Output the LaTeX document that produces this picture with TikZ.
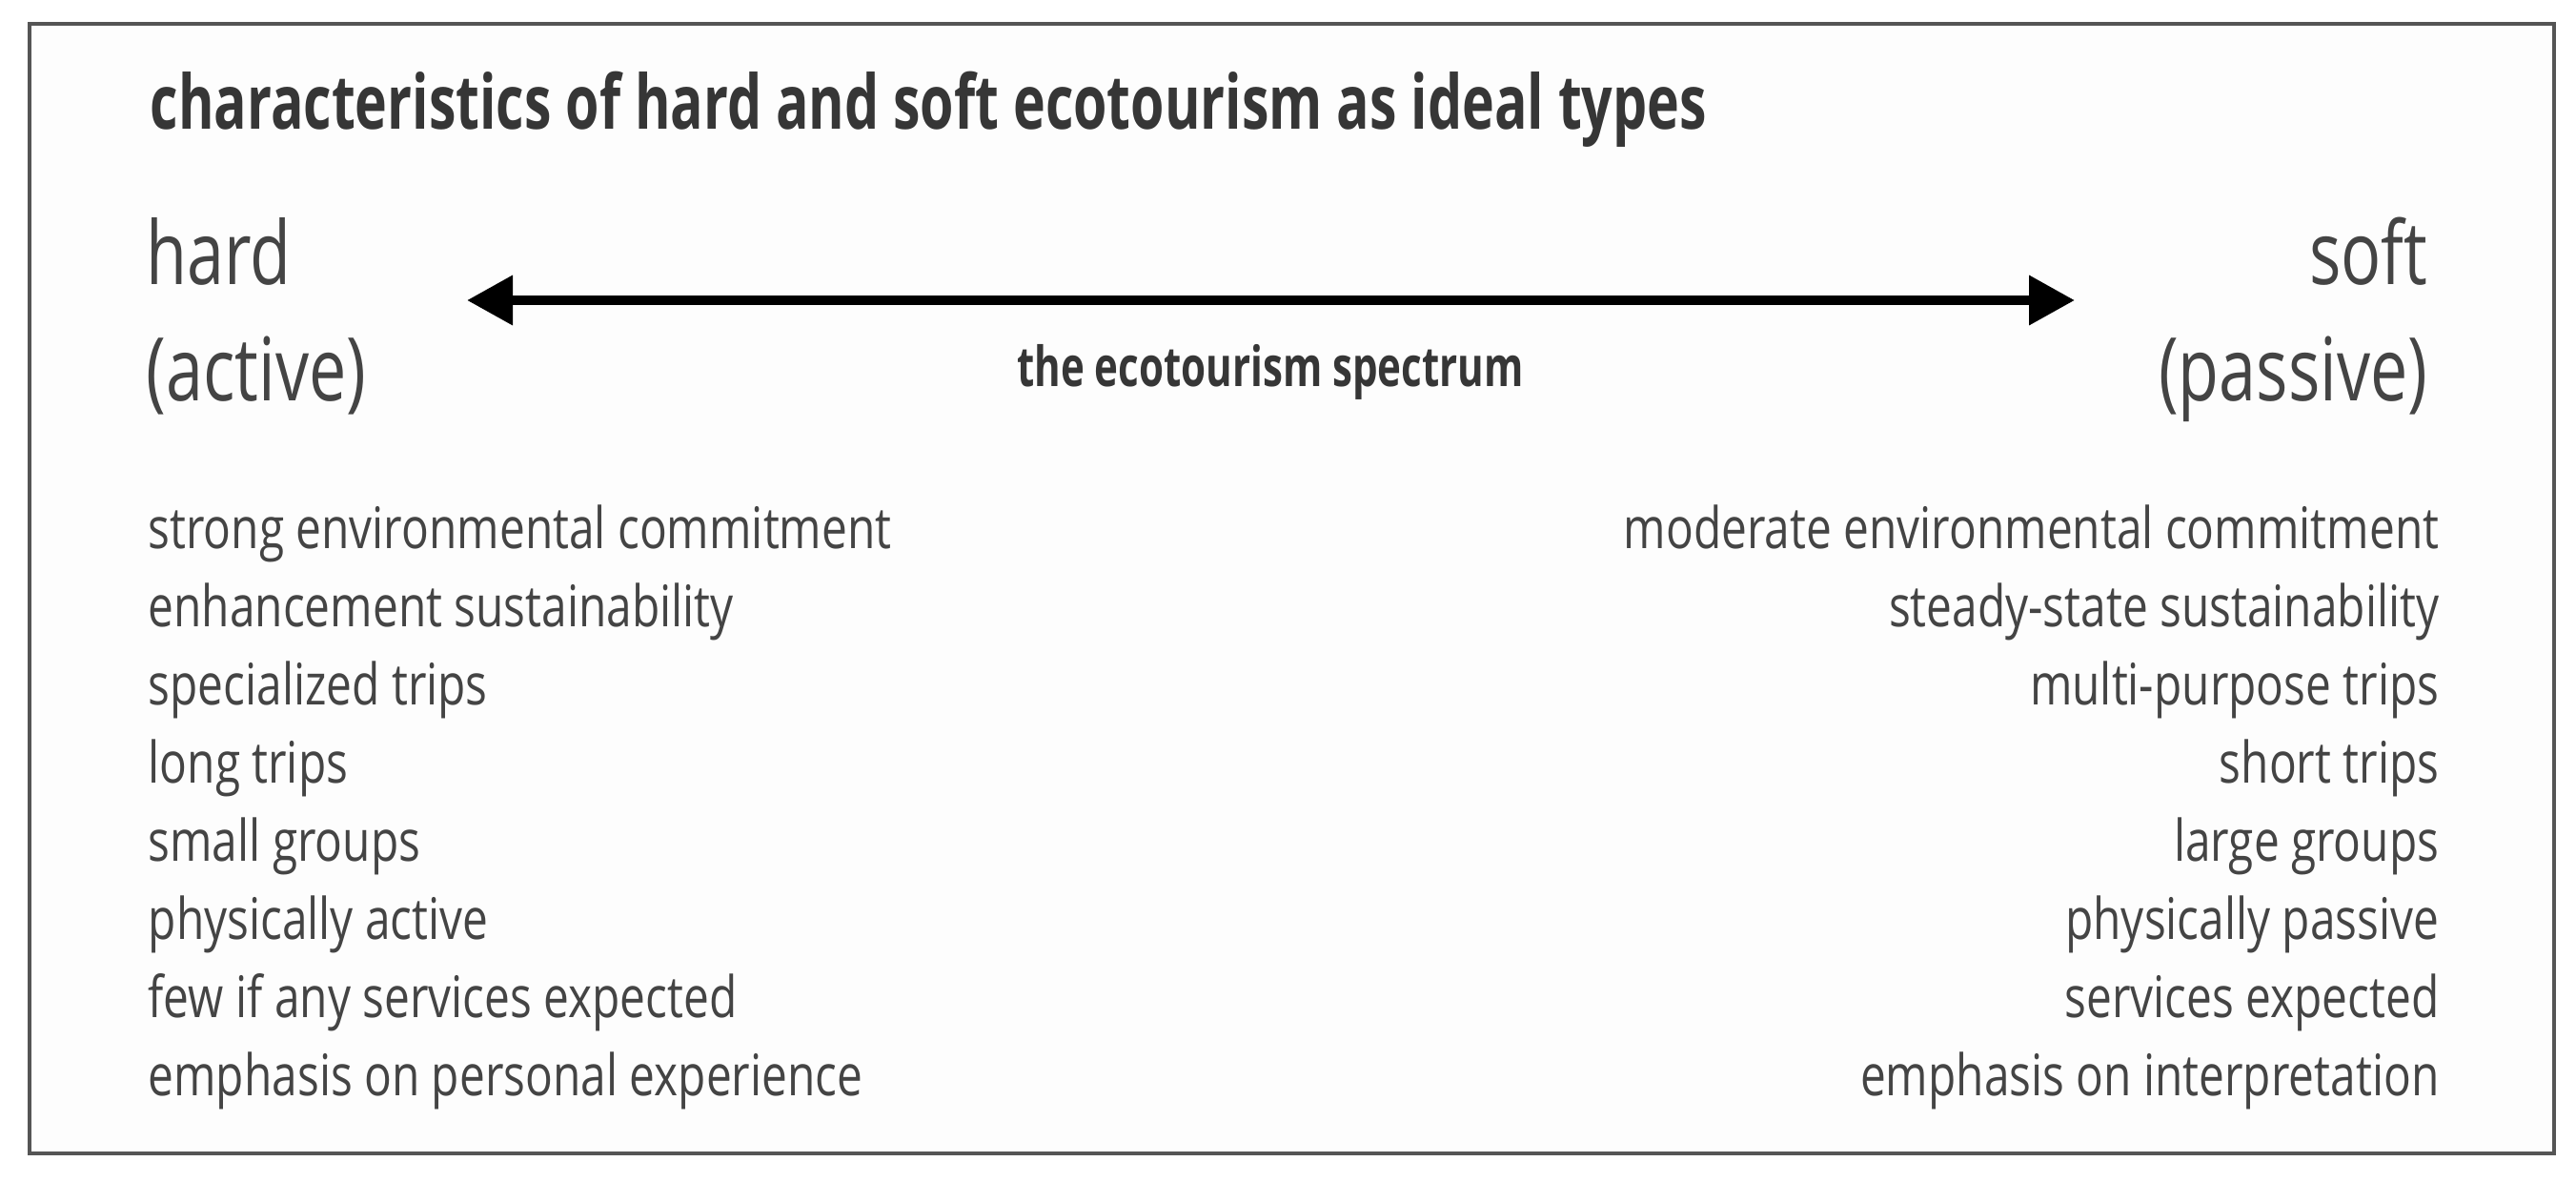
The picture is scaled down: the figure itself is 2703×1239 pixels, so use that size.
\documentclass[tikz,border=0pt]{standalone}
\usepackage{fontspec}
\setmainfont[FakeStretch=0.795,BoldFeatures={FakeStretch=0.725}]{Open Sans}
\newfontfamily\polefont[FakeStretch=0.76]{Open Sans}
\usetikzlibrary{arrows.meta}
\definecolor{txtgray}{HTML}{444444}
\definecolor{titlegray}{HTML}{363636}
\definecolor{framegray}{HTML}{555555}
\tikzset{
  item/.style={inner sep=0pt, text=txtgray, font=\fontsize{17.1pt}{20pt}\selectfont},
  lefttxt/.style={item, anchor=base west},
  righttxt/.style={item, anchor=base east},
  poletxt/.style={inner sep=0pt, text=txtgray, font=\polefont\fontsize{26.2pt}{30pt}\selectfont},
  spectrumarrow/.style={line width=0.1cm, {Triangle[length=0.48cm,width=0.5cm]}-{Triangle[length=0.48cm,width=0.5cm]}}
}
\begin{document}
\begin{tikzpicture}[x=0.01cm,y=-0.01cm]
\useasboundingbox (0,0) rectangle (2703,1239);
\fill[white] (0,0) rectangle (2703,1239);
\draw[framegray, line width=0.04cm, fill={rgb,255:red,253;green,253;blue,253}] (31,25) rectangle (2680,1210);
\node[inner sep=0pt, anchor=base west, text=titlegray, font=\fontsize{22.45pt}{26pt}\selectfont\bfseries] (title) at (157,135) {characteristics of hard and soft ecotourism as ideal types};
\node[poletxt, anchor=base west] (hard) at (153,298) {hard};
\node[poletxt, anchor=base west] (active) at (153,420) {(active)};
\node[poletxt, anchor=base east] (soft) at (2548,298) {soft};
\node[poletxt, anchor=base east] (passive) at (2548,420) {(passive)};
\coordinate (aL) at (490,315);
\coordinate (aR) at (2177,315);
\draw[spectrumarrow] (aL) -- (aR);
\node[inner sep=0pt, anchor=base, text=titlegray, font=\fontsize{16.5pt}{20pt}\selectfont\bfseries] (spec) at (1333,405) {the ecotourism spectrum};
\foreach \t [count=\i] in {strong environmental commitment, enhancement sustainability, specialized trips, long trips, small groups, physically active, few if any services expected, emphasis on personal experience}
  \node[lefttxt] (L\i) at (155,{575+82*(\i-1)}) {\t};
\foreach \t [count=\i] in {moderate environmental commitment, steady-state sustainability, multi-purpose trips, short trips, large groups, physically passive, services expected, emphasis on interpretation}
  \node[righttxt] (R\i) at (2560,{575+82*(\i-1)}) {\t};
\end{tikzpicture}
\end{document}
